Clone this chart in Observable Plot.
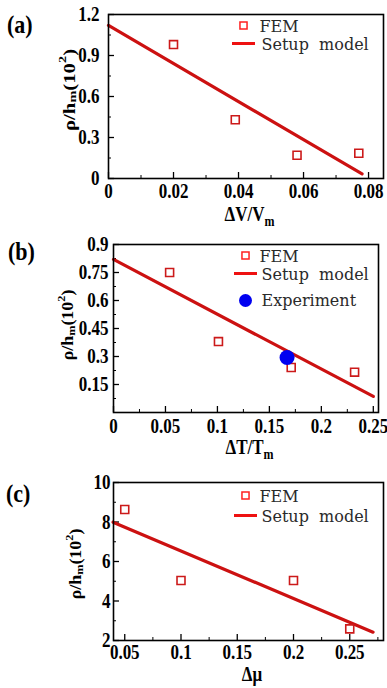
<!DOCTYPE html>
<html><head><meta charset="utf-8">
<script src="https://cdn.jsdelivr.net/npm/d3@7"></script>
<script src="https://cdn.jsdelivr.net/npm/@observablehq/plot@0.6"></script>
<style>
body{margin:0;background:#fff;}
#wrap{position:relative;width:387px;height:688px;overflow:hidden;background:#fff;}
.panel{position:absolute;left:0;}
.tag{position:absolute;font:bold 22px "Liberation Serif";line-height:22px;color:#000;transform:scaleY(1.15);transform-origin:0 50%;}
</style></head><body><div id="wrap"></div>
<script>
// ---------- Panel (a) ----------
const aFemX = [0.02, 0.039, 0.058, 0.077];
const aFemY = [0.98, 0.43, 0.17, 0.185];
const aModelX = [0, 0.078];
const aModelY = [1.12, 0.034];
const aXTicks = [0, 0.02, 0.04, 0.06, 0.08];
const aXMinor = [0.01, 0.03, 0.05, 0.07];
const aYTicks = [0, 0.3, 0.6, 0.9, 1.2];
const aYMinor = [0.15, 0.45, 0.75, 1.05];

// ---------- Panel (b) ----------
const bFemX = [0.054, 0.101, 0.171, 0.232];
const bFemY = [0.75, 0.38, 0.241, 0.216];
const bExpX = [0.167];
const bExpY = [0.295];
const bModelX = [0, 0.25];
const bModelY = [0.82, 0.086];
const bXTicks = [0, 0.05, 0.1, 0.15, 0.2, 0.25];
const bXMinor = [0.025, 0.075, 0.125, 0.175, 0.225];
const bYTicks = [0.15, 0.3, 0.45, 0.6, 0.75, 0.9];
const bYMinor = [0.075, 0.225, 0.375, 0.525, 0.675, 0.825];

// ---------- Panel (c) ----------
const cFemX = [0.05, 0.1, 0.2, 0.25];
const cFemY = [8.63, 5.04, 5.04, 2.59];
const cModelX = [0.0396, 0.2707];
const cModelY = [7.99, 2.42];
const cXTicks = [0.05, 0.1, 0.15, 0.2, 0.25];
const cXMinor = [0.075, 0.125, 0.175, 0.225, 0.275];
const cYTicks = [2, 4, 6, 8, 10];
const cYMinor = [3, 5, 7, 9];

const legendLabels = ["FEM", "Setup\u00A0 model", "Experiment"];

const RED = "#cc1111";
const wrap = document.getElementById("wrap");
const zip = (xs, ys) => xs.map((x, i) => ({x, y: ys[i]}));
const lineSymbol = {draw(ctx) { ctx.moveTo(-11.5, 0); ctx.lineTo(11.5, 0); }};

function panel(cfg) {
  const W = 387 - cfg.ml - cfg.mr;
  const H = cfg.height - cfg.mt - cfg.mb;
  const L = cfg.legend; // offsets from frame top-left
  const legendFont = {fontFamily: "DejaVu Serif", fontWeight: "normal", fontSize: 16, fill: "#2a2a2a", textAnchor: "start", lineAnchor: "middle", frameAnchor: "top-left"};
  const marks = [
    Plot.tickX(cfg.xTicks, {x: d => d, insetTop: H - 6, stroke: "#000", strokeWidth: 1.3}),
    Plot.tickX(cfg.xMinor, {x: d => d, insetTop: H - 3, stroke: "#000", strokeWidth: 1}),
    Plot.tickY(cfg.yTicks, {y: d => d, insetRight: W - 6, stroke: "#000", strokeWidth: 1.3}),
    Plot.tickY(cfg.yMinor, {y: d => d, insetRight: W - 3, stroke: "#000", strokeWidth: 1}),
    Plot.axisX({ticks: cfg.xTicks, tickSize: 0, tickPadding: cfg.xPad, tickFormat: d => String(d), label: null}),
    Plot.axisY({ticks: cfg.yTicks, tickSize: 0, tickPadding: cfg.yPad, tickFormat: d => String(d), label: null}),
    Plot.line(cfg.model, {x: "x", y: "y", stroke: RED, strokeWidth: 3.2}),
    Plot.dot(cfg.fem, {x: "x", y: "y", symbol: "square", r: 4.5, stroke: "#cc1a1a", strokeWidth: 1.6, fill: "none"}),
  ];
  if (cfg.exp) marks.push(Plot.dot(cfg.exp, {x: "x", y: "y", r: 7.5, fill: "#0000f0", stroke: "none"}));
  marks.push(Plot.frame({stroke: "#000", strokeWidth: 1.6}));
  // legend
  marks.push(Plot.dot([0], {frameAnchor: "top-left", dx: L.sx, dy: L.r0, symbol: "square", r: 4, stroke: "#ff2020", strokeWidth: 1.5, fill: "none"}));
  marks.push(Plot.text([legendLabels[0]], {...legendFont, dx: L.tx - 3, dy: L.r0 + 1}));
  marks.push(Plot.dot([0], {frameAnchor: "top-left", dx: L.sx, dy: L.r1, symbol: lineSymbol, stroke: "#ee1111", strokeWidth: 3, fill: "none"}));
  marks.push(Plot.text([legendLabels[1]], {...legendFont, dx: L.tx - 1, dy: L.r1 + 1}));
  if (cfg.exp) {
    marks.push(Plot.dot([0], {frameAnchor: "top-left", dx: L.sx, dy: L.r2, r: 6.5, fill: "#0000f0"}));
    marks.push(Plot.text([legendLabels[2]], {...legendFont, dx: L.tx - 1, dy: L.r2}));
  }
  const svg = Plot.plot({
    width: 387, height: cfg.height,
    marginTop: cfg.mt, marginBottom: cfg.mb, marginLeft: cfg.ml, marginRight: cfg.mr,
    x: {domain: cfg.xDomain},
    y: {domain: cfg.yDomain},
    style: {fontFamily: "Liberation Serif", fontWeight: "bold", fontSize: "17px", color: "#000", background: "transparent"},
    marks
  });
  const div = document.createElement("div");
  div.className = "panel";
  div.style.top = cfg.top + "px";
  div.appendChild(svg);
  const tag = document.createElement("div");
  tag.className = "tag";
  tag.textContent = cfg.tag;
  tag.style.left = cfg.tagPos[0] + "px";
  tag.style.top = cfg.tagPos[1] + "px";
  div.appendChild(tag);
  wrap.appendChild(div);

  const s = d3.select(svg);
  // stretch tick labels vertically like the reference
  s.selectAll('g[aria-label="x-axis tick label"] text, g[aria-label="y-axis tick label"] text').each(function() {
    const t = this.getAttribute("transform") || "";
    this.setAttribute("transform", t + " scale(1,1.25)");
  });
  // x axis title
  const xt = s.append("text")
    .attr("transform", `translate(${cfg.ml + W / 2 + 4},${cfg.xTitleY}) scale(1,1.2)`)
    .attr("text-anchor", "middle")
    .attr("font-family", "Liberation Serif").attr("font-weight", "bold").attr("font-size", 17)
    .attr("fill", "#000");
  xt.append("tspan").text(cfg.xTitle[0]);
  xt.append("tspan").attr("font-size", 12).attr("dy", 4).text(cfg.xTitle[1]);
  // y axis title
  const yt = s.append("text")
    .attr("transform", `translate(${cfg.yTitleX},${cfg.yTitleY}) rotate(-90) scale(${cfg.yStretch},1)`)
    .attr("text-anchor", "middle").attr("dominant-baseline", "central")
    .attr("font-family", "Liberation Serif").attr("font-weight", "bold").attr("font-size", 16)
    .attr("fill", "#000");
  yt.append("tspan").text("\u03C1/h");
  yt.append("tspan").attr("font-size", 11).attr("dy", 4).text("m");
  yt.append("tspan").attr("dy", -4).text("(10");
  yt.append("tspan").attr("font-size", 11).attr("dy", -6).text("2");
  yt.append("tspan").attr("dy", 6).text(")");
}

panel({
  top: 0, height: 230, mt: 14, mb: 52, ml: 108, mr: 4,
  xDomain: [0, 0.0846], yDomain: [0, 1.2],
  xTicks: aXTicks, xMinor: aXMinor, yTicks: aYTicks, yMinor: aYMinor,
  fem: zip(aFemX, aFemY), model: zip(aModelX, aModelY),
  xPad: 4, yPad: 9,
  legend: {sx: 135, tx: 154, r0: 11, r1: 29, r2: 0},
  tag: "(a)", tagPos: [7, 14],
  xTitle: ["\u0394V/V", "m"], xTitleY: 221,
  yTitleX: 69, yTitleY: 90, yStretch: 1.3
});

panel({
  top: 230, height: 240, mt: 14, mb: 58, ml: 113, mr: 9,
  xDomain: [0, 0.255], yDomain: [0, 0.9],
  xTicks: bXTicks, xMinor: bXMinor, yTicks: bYTicks, yMinor: bYMinor,
  fem: zip(bFemX, bFemY), exp: zip(bExpX, bExpY), model: zip(bModelX, bModelY),
  xPad: 5, yPad: 5,
  legend: {sx: 132, tx: 149, r0: 11, r1: 29, r2: 56},
  tag: "(b)", tagPos: [8, 11],
  xTitle: ["\u0394T/T", "m"], xTitleY: 224,
  yTitleX: 67, yTitleY: 95, yStretch: 1.12
});

panel({
  top: 460, height: 228, mt: 22, mb: 48, ml: 113, mr: 4,
  xDomain: [0.04, 0.28], yDomain: [2, 10],
  xTicks: cXTicks, xMinor: cXMinor, yTicks: cYTicks, yMinor: cYMinor,
  fem: zip(cFemX, cFemY), model: zip(cModelX, cModelY),
  xPad: 3, yPad: 3,
  legend: {sx: 132, tx: 149, r0: 13, r1: 33, r2: 0},
  tag: "(c)", tagPos: [6, 23],
  xTitle: ["\u0394\u03BC", ""], xTitleY: 221,
  yTitleX: 75, yTitleY: 104, yStretch: 1.12
});
</script></body></html>
